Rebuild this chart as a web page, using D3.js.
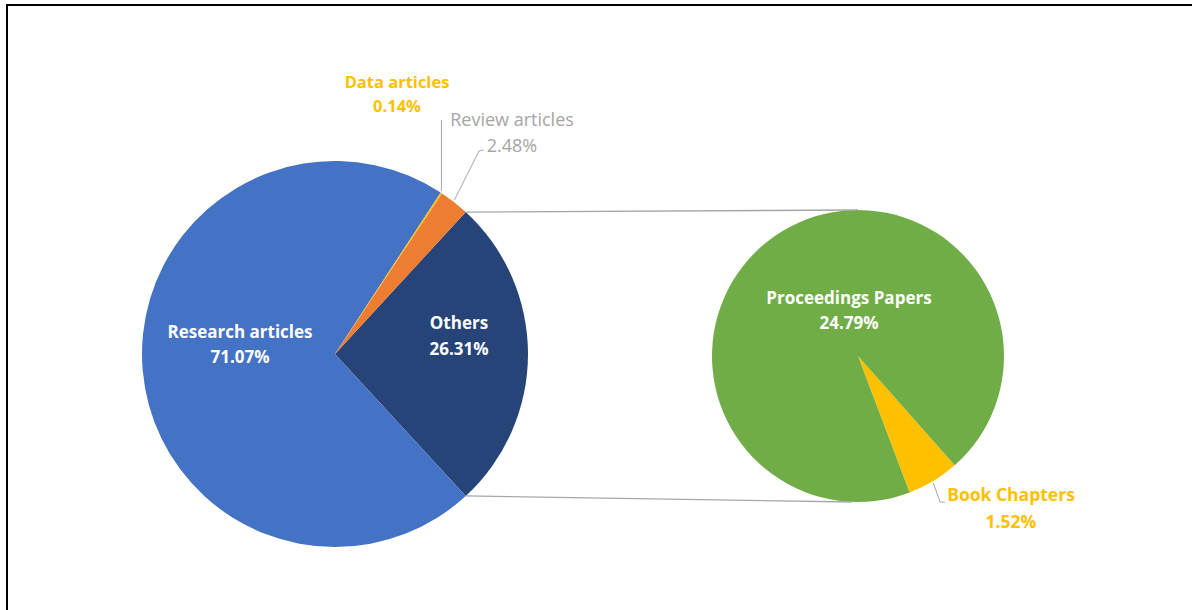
<!DOCTYPE html>
<html>
<head>
<meta charset="utf-8">
<script src="https://cdn.jsdelivr.net/npm/d3@7"></script>
<style>
  body { margin: 0; background: #fff; }
  svg { display: block; }
</style>
</head>
<body>
<div id="chart"></div>
<script>
// main pie: document types (percent of all publications)
const mainLabels = ["Others", "Research articles", "Data articles", "Review articles"];
const mainValues = [26.31, 71.07, 0.14, 2.48];
const mainColors = ["#264478", "#4472c4", "#ffc000", "#ed7d31"];

// secondary pie: breakdown of "Others"
const subLabels = ["Book Chapters", "Proceedings Papers"];
const subValues = [1.52, 24.79];
const subColors = ["#ffc000", "#70ad47"];

const width = 1192, height = 610;

const svg = d3.select("#chart")
    .append("svg")
    .attr("width", width)
    .attr("height", height);

// frame lines (top and left only)
svg.append("line").attr("x1", 6).attr("y1", 5).attr("x2", width).attr("y2", 5)
    .attr("stroke", "#000").attr("stroke-width", 2);
svg.append("line").attr("x1", 7).attr("y1", 4).attr("x2", 7).attr("y2", height)
    .attr("stroke", "#000").attr("stroke-width", 2);

const font = "'Open Sans', sans-serif";
const deg = Math.PI / 180;

// main pie, "Others" centred on 3 o'clock
const main = { cx: 335, cy: 354, r: 193 };
const othersSpan = mainValues[0] / d3.sum(mainValues) * 2 * Math.PI;
const mainPie = d3.pie().sort(null).value(d => d)
    .startAngle(Math.PI / 2 - othersSpan / 2)
    .endAngle(Math.PI / 2 - othersSpan / 2 + 2 * Math.PI);
const mainArcs = mainPie(mainValues);
const mainArc = d3.arc().innerRadius(0).outerRadius(main.r);

const gMain = svg.append("g").attr("transform", `translate(${main.cx},${main.cy})`);
gMain.selectAll("path")
    .data(mainArcs)
    .enter().append("path")
    .attr("d", mainArc)
    .attr("fill", (d, i) => mainColors[i]);

// secondary pie
const sub = { cx: 858, cy: 356, r: 146 };
const subPie = d3.pie().sort(null).value(d => d)
    .startAngle(138.5 * deg)
    .endAngle(138.5 * deg + 2 * Math.PI);
const subArcs = subPie(subValues);
const subArc = d3.arc().innerRadius(0).outerRadius(sub.r);

const gSub = svg.append("g").attr("transform", `translate(${sub.cx},${sub.cy})`);
gSub.selectAll("path")
    .data(subArcs)
    .enter().append("path")
    .attr("d", subArc)
    .attr("fill", (d, i) => subColors[i]);

// connector lines from the "Others" slice edges to the second pie
function edgePoint(c, a) {
    return [c.cx + c.r * Math.sin(a), c.cy - c.r * Math.cos(a)];
}
const oTop = edgePoint(main, mainArcs[0].startAngle);
const oBot = edgePoint(main, mainArcs[0].endAngle);
svg.append("line")
    .attr("x1", oTop[0]).attr("y1", oTop[1])
    .attr("x2", sub.cx).attr("y2", sub.cy - sub.r)
    .attr("stroke", "#a6a6a6").attr("stroke-width", 1.3);
svg.append("line")
    .attr("x1", oBot[0]).attr("y1", oBot[1])
    .attr("x2", sub.cx - 6).attr("y2", sub.cy + sub.r)
    .attr("stroke", "#a6a6a6").attr("stroke-width", 1.3);

// labels
function label(x, y, lines, color, weight, size, gap) {
    const t = svg.append("text")
        .attr("x", x).attr("y", y)
        .attr("text-anchor", "middle")
        .attr("font-family", font)
        .attr("font-size", size)
        .attr("font-weight", weight)
        .attr("fill", color);
    lines.forEach((s, i) => {
        t.append("tspan").attr("x", x).attr("dy", i === 0 ? 0 : gap).text(s);
    });
}

const pct = v => v.toFixed(2) + "%";

label(240, 338, [mainLabels[1], pct(mainValues[1])], "#fff", "bold", 17, 25);
label(459, 329, [mainLabels[0], pct(mainValues[0])], "#fff", "bold", 17, 26);
label(397, 88, [mainLabels[2], pct(mainValues[2])], "#ffc000", "bold", 16.5, 24);
label(512, 126, [mainLabels[3], pct(mainValues[3])], "#a5a5a5", "normal", 18, 26);
label(849, 304, [subLabels[1], pct(subValues[1])], "#fff", "bold", 17, 25);
label(1011, 501, [subLabels[0], pct(subValues[0])], "#ffc000", "bold", 17.5, 27);

// leader lines
const leader = d3.line();
const dataPt = edgePoint(main, (mainArcs[2].startAngle + mainArcs[2].endAngle) / 2);
svg.append("path")
    .attr("d", leader([[dataPt[0], dataPt[1] - 2], [dataPt[0], 120]]))
    .attr("fill", "none").attr("stroke", "#a6a6a6").attr("stroke-width", 1);
const revPt = edgePoint(main, (mainArcs[3].startAngle + mainArcs[3].endAngle) / 2);
svg.append("path")
    .attr("d", leader([[revPt[0], revPt[1] - 2], [479, 151], [484, 150]]))
    .attr("fill", "none").attr("stroke", "#a6a6a6").attr("stroke-width", 1);
const bookPt = edgePoint(sub, (subArcs[0].startAngle + subArcs[0].endAngle) / 2);
svg.append("path")
    .attr("d", leader([[bookPt[0], bookPt[1] + 2], [940, 502], [945, 502]]))
    .attr("fill", "none").attr("stroke", "#a6a6a6").attr("stroke-width", 1);
</script>
</body>
</html>
